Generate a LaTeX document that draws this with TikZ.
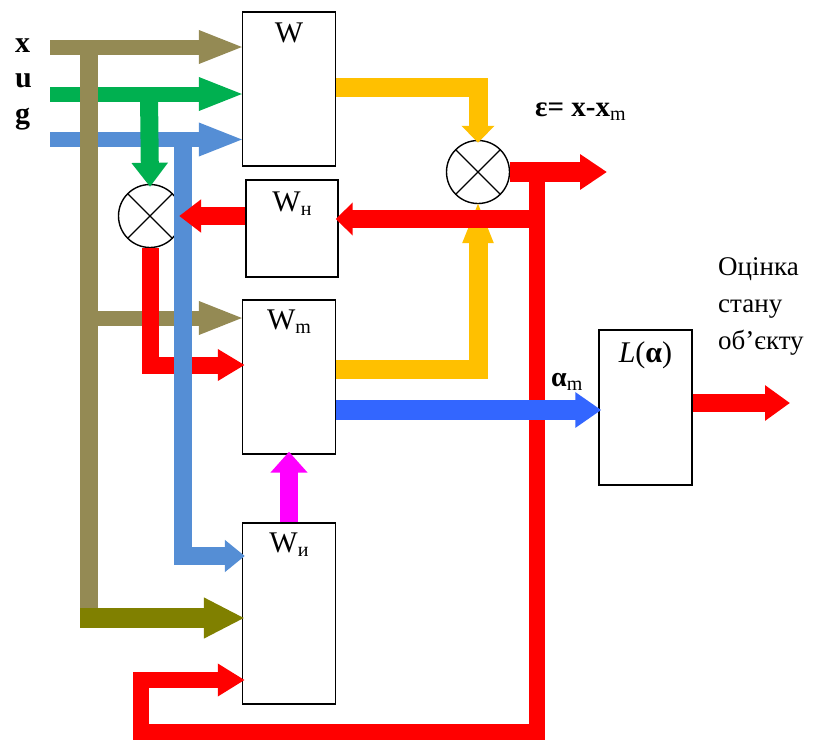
\documentclass[tikz,border=0pt]{standalone}
\usepackage{fontspec}
\setmainfont{Liberation Serif}
\usetikzlibrary{arrows.meta, positioning}
\definecolor{sigolive}{RGB}{148,138,84}
\definecolor{sigdark}{RGB}{128,128,0}
\definecolor{siggreen}{RGB}{0,176,80}
\definecolor{sigblue}{RGB}{85,142,213}
\definecolor{sigyellow}{RGB}{255,192,0}
\definecolor{sigred}{RGB}{255,0,0}
\definecolor{sigalpha}{RGB}{51,102,255}
\definecolor{sigmag}{RGB}{255,0,255}
\newcommand{\lowidx}[1]{\raisebox{-4pt}{\fontsize{20}{20}\selectfont #1}}
\tikzset{
  blok/.style={rectangle, draw, line width=1.4pt, fill=white,
               minimum width=93pt, inner sep=0pt},
  summ/.style={circle, draw, line width=1.4pt, fill=white,
               minimum size=63pt, inner sep=0pt,
               path picture={\draw[line width=1.4pt]
                 (path picture bounding box.north west) -- (path picture bounding box.south east)
                 (path picture bounding box.north east) -- (path picture bounding box.south west);}},
  pipe/.style={draw=#1, line width=16pt},
  flow/.style={draw=#1, line width=16pt, shorten >=-3pt, -{Triangle[width=32pt, length=26pt]}},
  bigflow/.style={draw=#1, line width=15pt, shorten >=-3pt, -{Triangle[width=30pt, length=46pt]}},
  lbl/.style={font=\fontsize{30}{36}\selectfont, inner sep=0pt},
  note/.style={font=\fontsize{27}{37}\selectfont, inner sep=0pt, align=left},
}
\begin{document}
\begin{tikzpicture}[x=1pt, y=-1pt]
    \useasboundingbox (0,0) rectangle (817,742);
    % blocks
    \node[blok, minimum height=154pt] (w) at (289,89) {};
    \node[blok, minimum width=92pt, minimum height=97pt] (wh) at (292,228.5) {};
    \node[blok, minimum height=154pt] (wm) at (289,377) {};
    \node[blok, minimum height=181pt] (wi) at (289,613.5) {};
    \node[blok, minimum height=155pt] (lb) at (645.5,407.5) {};
    \node[summ] (c1) at (150,216) {};
    \node[summ] (c2) at (478,172) {};
    % inputs
    \coordinate (ix) at (50,47);
    \coordinate (iu) at (50,94);
    \coordinate (ig) at (50,139.5);
    \draw[bigflow=sigolive] (ix) -- (ix -| w.west);
    \draw[bigflow=siggreen] (iu) -- (iu -| w.west);
    \draw[bigflow=sigblue] (ig) -- (ig -| w.west);
    % x bus
    \coordinate (ot) at (89,47);
    \coordinate (om) at (89,318);
    \coordinate (ob) at (89,618);
    \coordinate (obl) at (80,618);
    \draw[pipe=sigolive, line width=18pt] (ot) -- (ob);
    \draw[bigflow=sigolive] (om) -- (om -| wm.west);
    \draw[bigflow=sigdark, line width=20pt, -{Triangle[width=38pt, length=41pt]}] (obl) -- (obl -| wi.west);
    % u to c1
    \coordinate (gu) at (149,94);
    \draw[flow=siggreen, line width=18pt, -{Triangle[width=35pt, length=24pt]}] (gu) -- (c1.north);
    % c1 to Wm
    \coordinate (rm) at (150,365);
    \draw[flow=sigred, line width=17pt, -{Triangle[width=30pt, length=27pt]}] (c1.south) -- (rm) -- (rm -| wm.west);
    % g bus
    \coordinate (bt) at (183,139.5);
    \coordinate (bb) at (183,556);
    \draw[flow=sigblue, line width=18pt, -{Triangle[width=31pt, length=20pt]}] (bt) -- (bb) -- (bb -| wi.west);
    % Wh to c1
    \draw[flow=sigred, line width=18pt, -{Triangle[width=32pt, length=22pt]}] (wh.west |- c1) -- (c1.east);
    % model outputs to c2
    \coordinate (yw) at (w.east |- 0,87);
    \coordinate (ym) at (wm.east |- 0,369);
    \draw[flow=sigyellow, line width=19pt, -{Triangle[width=32pt, length=17pt]}] (yw) -| (c2.north);
    \draw[flow=sigyellow, line width=19pt, -{Triangle[width=28pt, length=42pt]}] (ym) -| (c2.south);
    % error and feedback
    \coordinate (eo) at (607,172);
    \coordinate (rj) at (537,172);
    \coordinate (rh) at (537,219);
    \coordinate (rb) at (537,732);
    \coordinate (rl) at (141,732);
    \coordinate (ri) at (141,680);
    \draw[flow=sigred, line width=20pt, shorten >=0pt, -{Triangle[width=34pt, length=27pt]}] (c2.east) -- (eo);
    \draw[flow=sigred, line width=16pt, -{Triangle[width=31pt, length=27pt]}] (rj) -- (rb) -- (rl) -- (ri) -- (ri -| wi.west);
    \draw[flow=sigred, line width=18pt, -{Triangle[width=32pt, length=17pt]}] (rh) -- (rh -| wh.east);
    % alpha, Wi, output
    \coordinate (am) at (wm.east |- 0,410);
    \coordinate (lo) at (790,403);
    \draw[flow=sigalpha, line width=20pt, -{Triangle[width=34pt, length=26pt]}] (am) -- (am -| lb.west);
    \draw[flow=sigmag, line width=18pt, -{Triangle[width=36pt, length=21pt]}] (wi.north) -- (wm.south);
    \draw[flow=sigred, line width=18pt, shorten >=0pt, -{Triangle[width=34pt, length=25pt]}] (lo -| lb.east) -- (lo);
    % labels
    \node[lbl, anchor=base] (wt) at ([yshift=-31pt]w.north) {W};
    \node[lbl, anchor=base] (wht) at ([yshift=-32pt]wh.north) {W\lowidx{н}};
    \node[lbl, anchor=base] (wmt) at ([yshift=-30pt]wm.north) {W\lowidx{m}};
    \node[lbl, anchor=base] (wit) at ([yshift=-30pt]wi.north) {W\lowidx{и}};
    \node[lbl, anchor=base] (lbt) at ([yshift=-33pt]lb.north) {{\itshape L}(\textbf{α})};
    \node[lbl, anchor=base west] (lx) at (15,52) {\bfseries x};
    \node[lbl, anchor=base west] (lu) at (15,87) {\bfseries u};
    \node[lbl, anchor=base west] (lg) at (15,123) {\bfseries g};
    \node[lbl, font=\fontsize{29}{32}\selectfont, anchor=base west] (eps) at (535,116) {\textbf{ε= x-x}\lowidx{m}};
    \node[lbl, font=\fontsize{28}{30}\selectfont, anchor=base west] (alm) at (551,386) {\textbf{α}\lowidx{m}};
    \node[note, anchor=north west] (est) at (718,257) {Оцінка\\стану\\об’єкту};
\end{tikzpicture}
\end{document}
